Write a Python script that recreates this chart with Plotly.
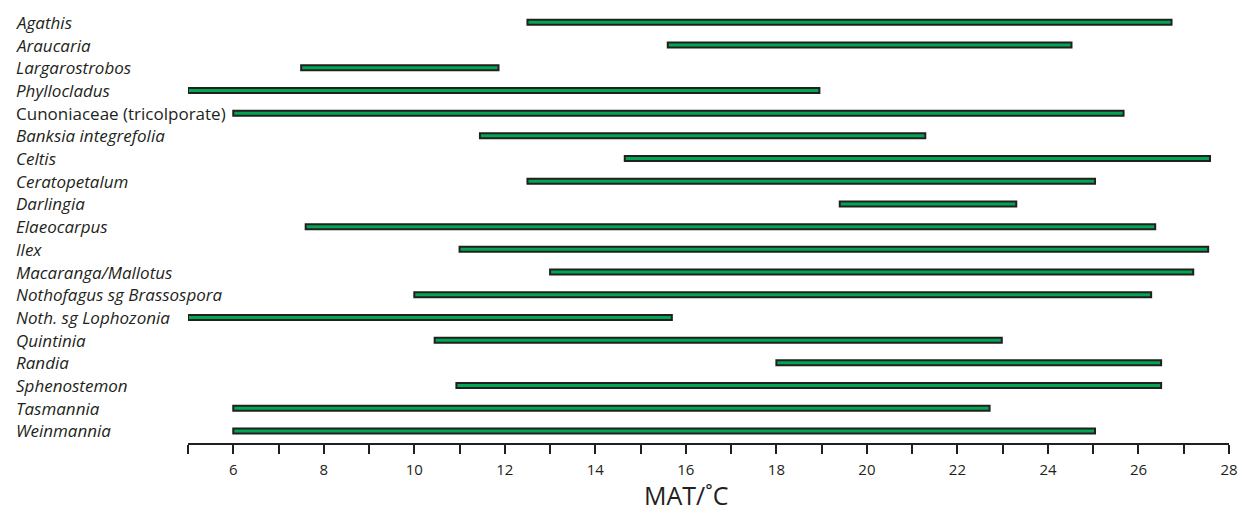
import plotly.graph_objects as go

taxa = ["Agathis", "Araucaria", "Largarostrobos", "Phyllocladus",
        "Cunoniaceae (tricolporate)", "Banksia integrefolia", "Celtis",
        "Ceratopetalum", "Darlingia", "Elaeocarpus", "Ilex",
        "Macaranga/Mallotus", "Nothofagus sg Brassospora",
        "Noth. sg Lophozonia", "Quintinia", "Randia", "Sphenostemon",
        "Tasmannia", "Weinmannia"]
italic = [True, True, True, True, False, True, True, True, True, True, True,
          True, True, True, True, True, True, True, True]
mat_min = [12.5, 15.6, 7.5, 5.0, 6.0, 11.45, 14.65, 12.5, 19.4, 7.6, 11.0,
           13.0, 10.0, 5.0, 10.45, 18.0, 10.93, 6.0, 6.0]
mat_max = [26.73, 24.52, 11.86, 18.95, 25.67, 21.29, 27.58, 25.04, 23.3, 26.37,
           27.54, 27.21, 26.28, 15.69, 22.98, 26.5, 26.5, 22.71, 25.04]

tick_vals = list(range(5, 29))
tick_text = [str(v) if (v % 2 == 0 and v >= 6) else "" for v in tick_vals]

INK = "#231f20"
GREEN = "#00a651"
FONT = "Open Sans"

fig = go.Figure()
fig.add_trace(go.Bar(
    y=taxa,
    x=[b - a for a, b in zip(mat_min, mat_max)],
    base=mat_min,
    orientation="h",
    width=0.22,
    marker=dict(color=GREEN, line=dict(color=INK, width=2)),
    showlegend=False,
    hoverinfo="skip",
))

annotations = []
for name, it in zip(taxa, italic):
    annotations.append(dict(
        x=-0.1676, xref="paper", y=name, yref="y",
        text=f"<i>{name}</i>" if it else name,
        showarrow=False, xanchor="left", yanchor="middle",
        font=dict(family=FONT, size=17, color=INK),
    ))
annotations.append(dict(
    x=16, xref="x", y=-0.12, yref="paper",
    text="MAT/˚C", showarrow=False, xanchor="center", yanchor="middle",
    font=dict(family=FONT, size=25, color=INK),
))

fig.update_layout(
    width=1248, height=511,
    margin=dict(l=188, r=10, t=11, b=68),
    paper_bgcolor="white", plot_bgcolor="white",
    annotations=annotations,
    xaxis=dict(
        range=[5, 28], tickmode="array", tickvals=tick_vals, ticktext=tick_text,
        ticks="outside", ticklen=9, tickwidth=2, tickcolor=INK,
        showline=True, linewidth=2, linecolor=INK,
        showgrid=False, zeroline=False,
        tickfont=dict(family=FONT, size=15, color=INK),
        ticklabelstandoff=3,
    ),
    yaxis=dict(
        type="category", categoryorder="array", categoryarray=taxa,
        range=[18.53, -0.5], showticklabels=False, showgrid=False,
        zeroline=False, showline=False, ticks="",
    ),
)

fig.write_html("out.html")
